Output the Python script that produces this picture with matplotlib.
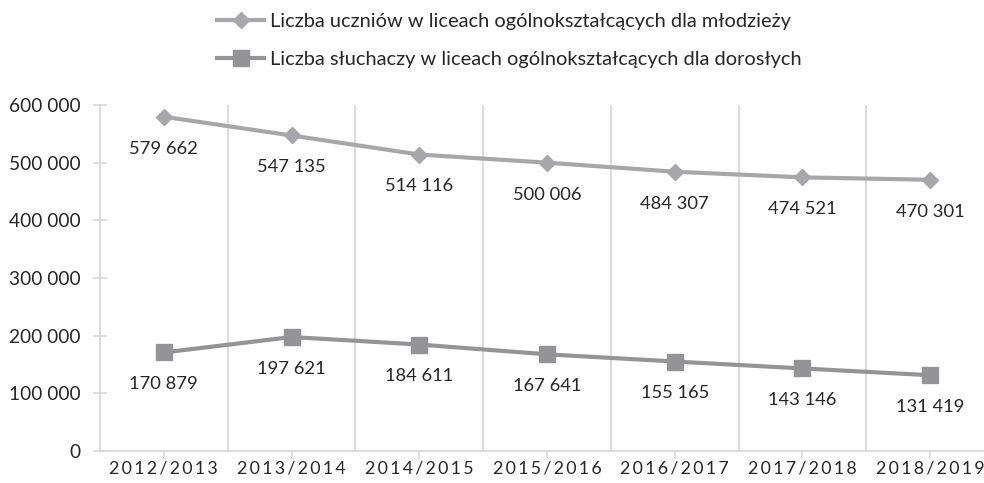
import matplotlib.pyplot as plt
import numpy as np
from matplotlib.ticker import FuncFormatter, MultipleLocator

plt.rcParams['font.family'] = ['Lato', 'DejaVu Sans']

lata = ["2012/2013", "2013/2014", "2014/2015", "2015/2016",
        "2016/2017", "2017/2018", "2018/2019"]
mlodziez = [579662, 547135, 514116, 500006, 484307, 474521, 470301]
dorosli = [170879, 197621, 184611, 167641, 155165, 143146, 131419]

nazwa1 = "Liczba uczniów w liceach ogólnokształcących dla młodzieży"
nazwa2 = "Liczba słuchaczy w liceach ogólnokształcących dla dorosłych"

kolor1 = "#A7A7AB"
kolor2 = "#949498"
tekst = "#262626"
siatka = "#D9D9D9"


def spacje(s):
    # rozstrzelone etykiety osi X
    return "\u2009".join(s)


def tys(v, pos=None):
    return f"{int(v):,}".replace(",", " ")


fig = plt.figure(figsize=(9.84, 4.83), dpi=100)
ax = fig.add_axes([100 / 984, 32 / 483, 894 / 984, 346 / 483])

x = np.arange(len(lata))
ax.plot(x, mlodziez, color=kolor1, lw=3, marker="D", ms=8.5,
        label=nazwa1, zorder=3)
ax.plot(x, dorosli, color=kolor2, lw=3, marker="s", ms=11,
        label=nazwa2, zorder=3)

for xi, v in zip(x, mlodziez):
    ax.annotate(tys(v), (xi, v), xytext=(0, -23), textcoords="offset points",
                ha="center", va="center", fontsize=13.2, color=tekst)
for xi, v in zip(x, dorosli):
    ax.annotate(tys(v), (xi, v), xytext=(0, -23), textcoords="offset points",
                ha="center", va="center", fontsize=13.2, color=tekst)

ax.set_xlim(-0.5, 6.5)
ax.set_ylim(0, 600000)
ax.set_xticks(x)
ax.set_xticklabels([spacje(s) for s in lata], fontsize=12.8, color=tekst)
ax.xaxis.set_minor_locator(MultipleLocator(1, offset=0.5))
ax.grid(axis="x", which="minor", color=siatka, lw=1.3)
ax.tick_params(axis="x", which="minor", length=0)
ax.tick_params(axis="x", which="major", length=6, width=1.2, color=siatka,
               direction="out", pad=1)

ax.yaxis.set_major_locator(MultipleLocator(100000))
ax.yaxis.set_major_formatter(FuncFormatter(tys))
ax.tick_params(axis="y", length=10, width=1.2, color=siatka, direction="inout",
               labelsize=13.8, labelcolor=tekst, pad=9)

for s in ["top", "right"]:
    ax.spines[s].set_visible(False)
for s in ["left", "bottom"]:
    ax.spines[s].set_color(siatka)
    ax.spines[s].set_linewidth(1.3)

leg = fig.legend(loc="upper left", bbox_to_anchor=(199 / 984, 1.01), frameon=False,
                 fontsize=14.4, handlelength=2.35, handletextpad=0.3,
                 labelspacing=1.05, labelcolor=tekst)

fig.savefig("out.png", dpi=100)
